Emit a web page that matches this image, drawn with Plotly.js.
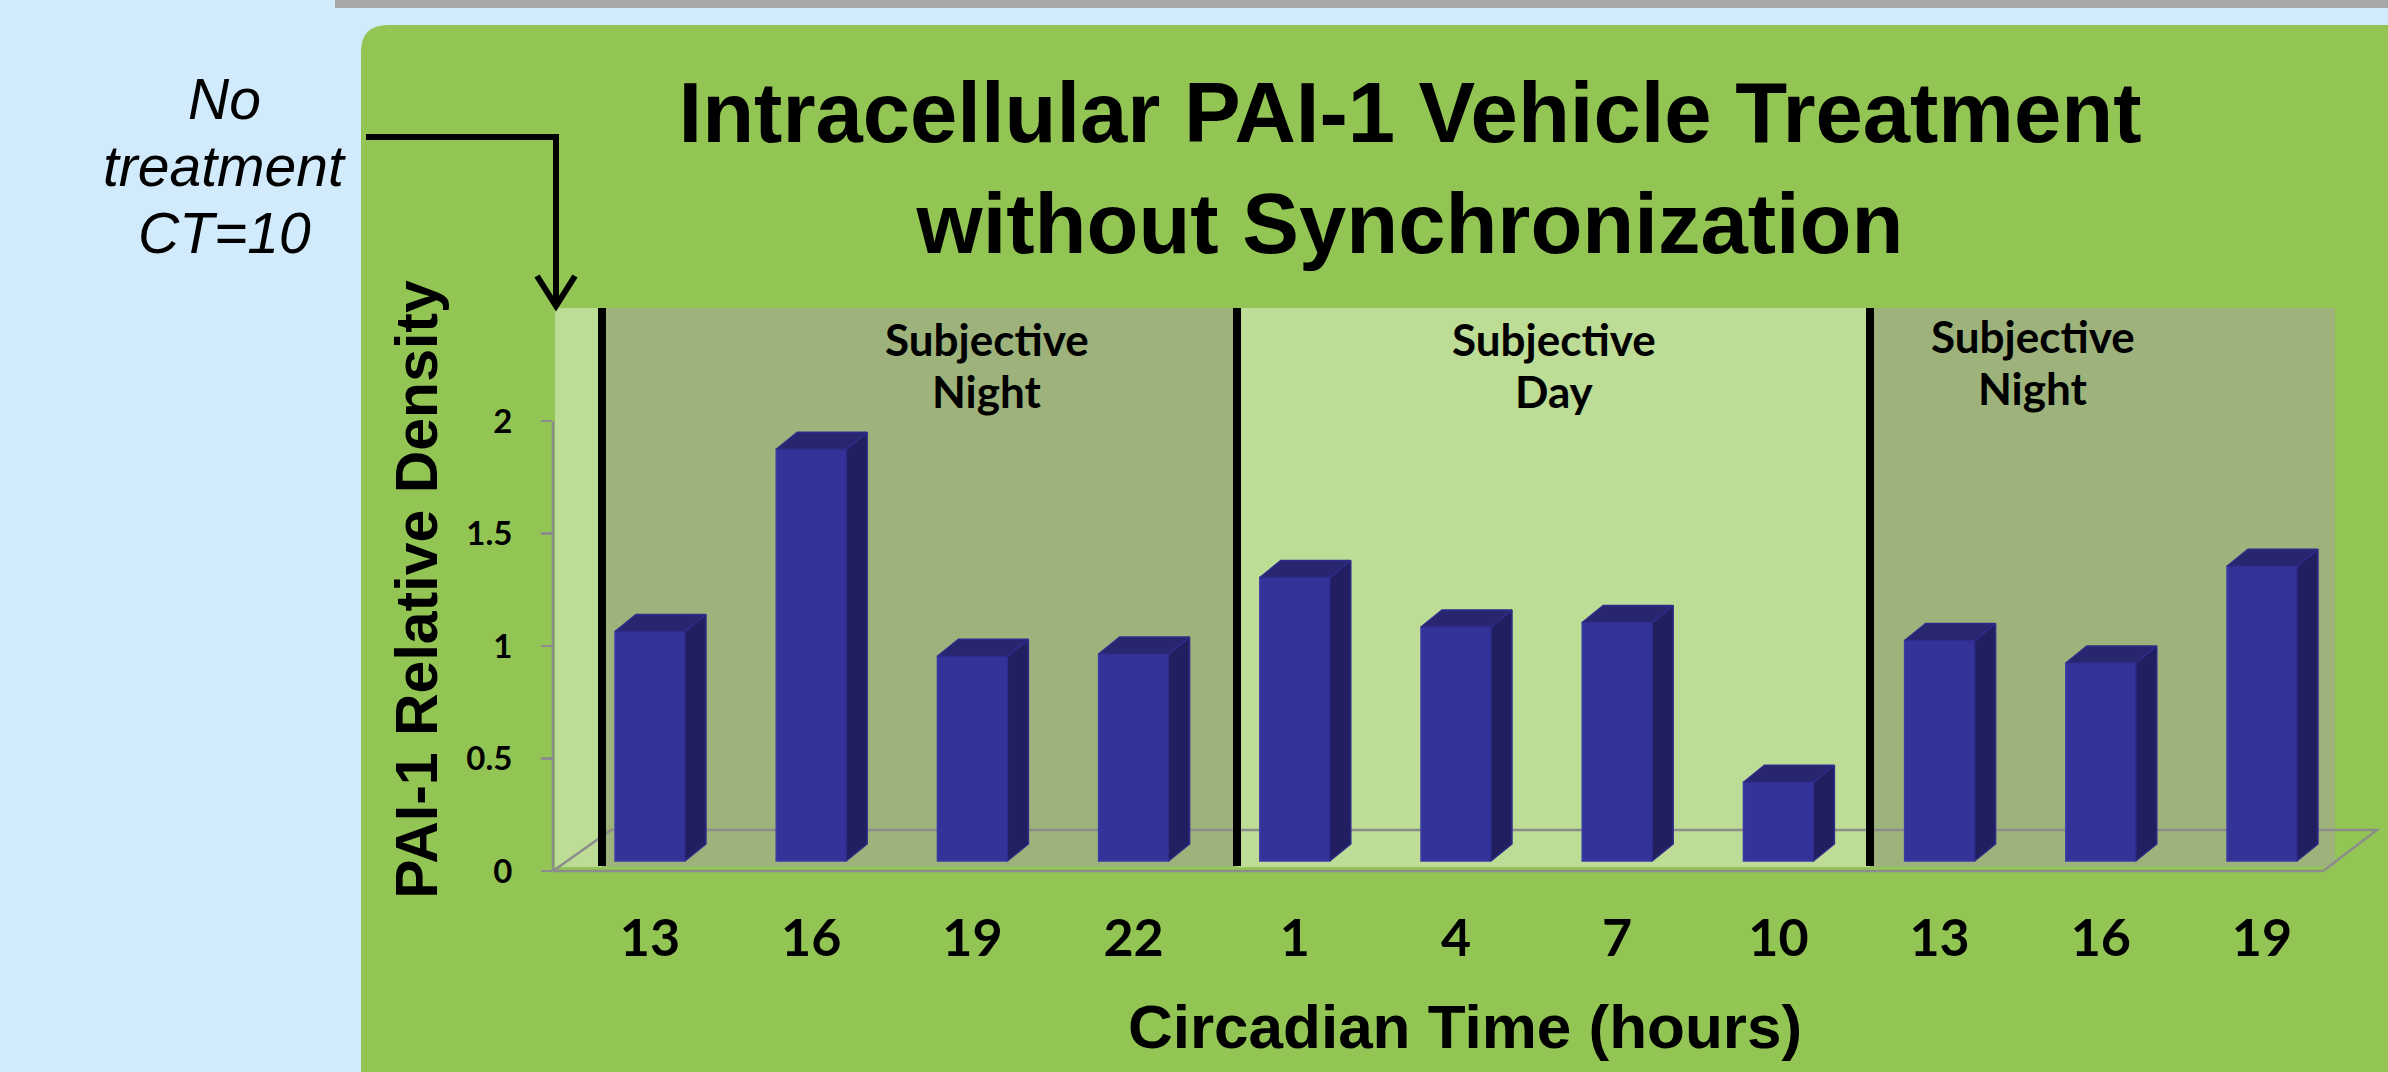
<!DOCTYPE html>
<html>
<head>
<meta charset="utf-8">
<script src="https://cdn.plot.ly/plotly-3.0.1.min.js"></script>
<style>html,body{margin:0;padding:0;background:#D1EBFC;}#chart{width:2388px;height:1072px;}</style>
</head>
<body>
<div id="chart"></div>
<script>
// ---------- data ----------
const ctLabels = ['13', '16', '19', '22', '1', '4', '7', '10', '13', '16', '19'];
const density = [1.02, 1.83, 0.91, 0.92, 1.26, 1.04, 1.06, 0.35, 0.98, 0.88, 1.31];
const phaseLabels = ['Subjective<br>Night', 'Subjective<br>Day', 'Subjective<br>Night'];
const yTickVals = [0, 0.5, 1, 1.5, 2];
const yTickText = ['0', '0.5', '1', '1.5', '2'];
const chartTitle = 'Intracellular PAI-1 Vehicle Treatment<br>without Synchronization';
const xTitle = 'Circadian Time (hours)';
const yTitle = 'PAI-1 Relative Density';
const noteText = 'No<br>treatment<br>CT=10';

// ---------- geometry / style ----------
const W = 2388, H = 1072;
const M = {l: 553, r: 11, t: 308, b: 201};
const plotW = W - M.l - M.r, plotH = H - M.t - M.b;
const X0 = 650, XSTEP = 161.2, Y0 = 871, YSTEP = 225;
const dataX = px => (px - X0) / XSTEP;
const PX = px => (px - M.l) / plotW;
const PY = py => (H - M.b - py) / plotH;

const BAR_W = 0.434, DX = 21 / XSTEP, DY = 17 / YSTEP, BASE = 10 / YSTEP;
const FRONT = '#333399', SIDE = '#221F60', TOP = '#28266F', EDGE = '#3B3BA8';
const PANEL = '#92C554', LIGHT = '#BDDC96', DARK = '#9DB37B', GRAY = '#8C8C8C';

const idx = ctLabels.map((_, i) => i);

// 3-D faces derived from the data
const sideX = [], sideY = [], topX = [], topY = [];
density.forEach((v, i) => {
  const r = i + BAR_W / 2, l = i - BAR_W / 2;
  sideX.push(r, r + DX, r + DX, r, r, null);
  sideY.push(BASE, BASE + DY, BASE + v + DY, BASE + v, BASE, null);
  topX.push(l, l + DX, r + DX, r, l, null);
  topY.push(BASE + v, BASE + v + DY, BASE + v + DY, BASE + v, BASE + v, null);
});

const traces = [
  {type: 'bar', x: idx, y: density, base: BASE, width: BAR_W,
   marker: {color: FRONT, line: {color: EDGE, width: 1.5}}, hoverinfo: 'skip'},
  {type: 'scatter', mode: 'lines', x: sideX, y: sideY, fill: 'toself', fillcolor: SIDE,
   line: {color: '#2E2C8A', width: 1.5}, hoverinfo: 'skip'},
  {type: 'scatter', mode: 'lines', x: topX, y: topY, fill: 'toself', fillcolor: TOP,
   line: {color: '#2E2C8A', width: 1.5}, hoverinfo: 'skip'}
];

// ---------- decorative shapes (pixel layout -> paper coords) ----------
const rectPx = (x0, y0, x1, y1, color, layer) => ({type: 'rect', xref: 'paper', yref: 'paper',
  x0: PX(x0), x1: PX(x1), y0: PY(y1), y1: PY(y0), fillcolor: color, line: {width: 0}, layer: layer || 'below'});
const linePx = (x0, y0, x1, y1, color, width, layer) => ({type: 'line', xref: 'paper', yref: 'paper',
  x0: PX(x0), x1: PX(x1), y0: PY(y0), y1: PY(y1), line: {color: color, width: width}, layer: layer || 'below'});
const pathPx = (pts, color, width, fill, layer) => ({type: 'path', xref: 'paper', yref: 'paper',
  path: pts.map(p => (p[0] + PX(p[1]) + ',' + PY(p[2]))).join(' ') + (fill ? ' Z' : ''),
  line: {color: color, width: width}, fillcolor: fill || 'rgba(0,0,0,0)', layer: layer || 'below'});

const shapes = [
  rectPx(335, -5, 2400, 8, '#A7A7A7'),
  {type: 'path', xref: 'paper', yref: 'paper', layer: 'below', line: {width: 0}, fillcolor: PANEL,
   path: `M ${PX(361)},${PY(1090)} L ${PX(361)},${PY(52)} Q ${PX(361)},${PY(25)} ${PX(388)},${PY(25)} L ${PX(2400)},${PY(25)} L ${PX(2400)},${PY(1090)} Z`},
  rectPx(555, 308, 602, 867, LIGHT),
  rectPx(602, 308, 1237, 867, DARK),
  rectPx(1237, 308, 1870, 867, LIGHT),
  rectPx(1870, 308, 2335, 867, DARK),
  // floor
  pathPx([['M', 553, 871], ['L', 611, 830], ['L', 2377, 830], ['L', 2323, 871], ['L', 553, 871]], GRAY, 2.5),
  // y axis line (0..2)
  {type: 'line', xref: 'paper', yref: 'y', x0: 0, x1: 0, y0: 0, y1: 2, line: {color: GRAY, width: 2.5}, layer: 'below'},
  // phase separators
  linePx(602, 308, 602, 866, '#000', 8),
  linePx(1237, 308, 1237, 866, '#000', 8),
  linePx(1870, 308, 1870, 866, '#000', 8),
  // elbow arrow
  pathPx([['M', 366, 137], ['L', 556, 137], ['L', 556, 304]], '#000', 6, null, 'above'),
  pathPx([['M', 537, 276], ['L', 556, 306], ['L', 575, 276]], '#000', 6, null, 'above')
];

// phase labels: each line placed separately to match the tighter line spacing
const phaseX = [987, 1554, 2033];
const phaseLineY = [[339, 391], [339, 391], [336, 388]];
const annotations = [];
phaseLabels.forEach((t, k) => {
  t.split('<br>').forEach((line, j) => annotations.push({
    xref: 'paper', yref: 'paper', x: PX(phaseX[k]), y: PY(phaseLineY[k][j]), text: line, showarrow: false,
    xanchor: 'center', yanchor: 'middle',
    font: {family: 'Lato, sans-serif', size: 44, weight: 700, color: '#000'}
  }));
});
const noteLineY = [99, 166, 233];
noteText.split('<br>').forEach((line, j) => annotations.push({
  xref: 'paper', yref: 'paper', x: PX(224), y: PY(noteLineY[j]), text: line, showarrow: false,
  xanchor: 'center', yanchor: 'middle',
  font: {family: 'Liberation Sans, Arial, sans-serif', size: 57, style: 'italic', color: '#000'}
}));

const layout = {
  width: W, height: H, margin: M,
  paper_bgcolor: '#D1EBFC', plot_bgcolor: 'rgba(0,0,0,0)', showlegend: false,
  title: {text: chartTitle, xref: 'container', yref: 'container', x: 1410 / W, xanchor: 'center',
          y: 1 - 142 / H, yanchor: 'top',
          font: {family: 'Liberation Sans, Arial, sans-serif', size: 85, weight: 700, color: '#000'}},
  xaxis: {range: [dataX(M.l), dataX(W - M.r)], tickvals: idx, ticktext: ctLabels, ticks: '',
          showline: false, showgrid: false, zeroline: false, ticklabelstandoff: 32,
          tickfont: {family: 'Lato, sans-serif', size: 52, weight: 700, color: '#000'},
          title: {text: xTitle, standoff: 38,
                  font: {family: 'Liberation Sans, Arial, sans-serif', size: 62, weight: 700, color: '#000'}}},
  yaxis: {range: [0, (Y0 - M.t) / YSTEP], tickvals: yTickVals, ticktext: yTickText,
          ticks: 'outside', ticklen: 11, tickwidth: 2.5, tickcolor: GRAY,
          showline: false, showgrid: false, zeroline: false, ticklabelstandoff: 22,
          tickfont: {family: 'Lato, sans-serif', size: 33, weight: 700, color: '#000'},
          title: {text: yTitle, standoff: 9,
                  font: {family: 'Liberation Sans, Arial, sans-serif', size: 59, weight: 700, color: '#000'}}},
  shapes: shapes,
  annotations: annotations
};

Plotly.newPlot('chart', traces, layout, {staticPlot: true, displayModeBar: false});
</script>
</body>
</html>
